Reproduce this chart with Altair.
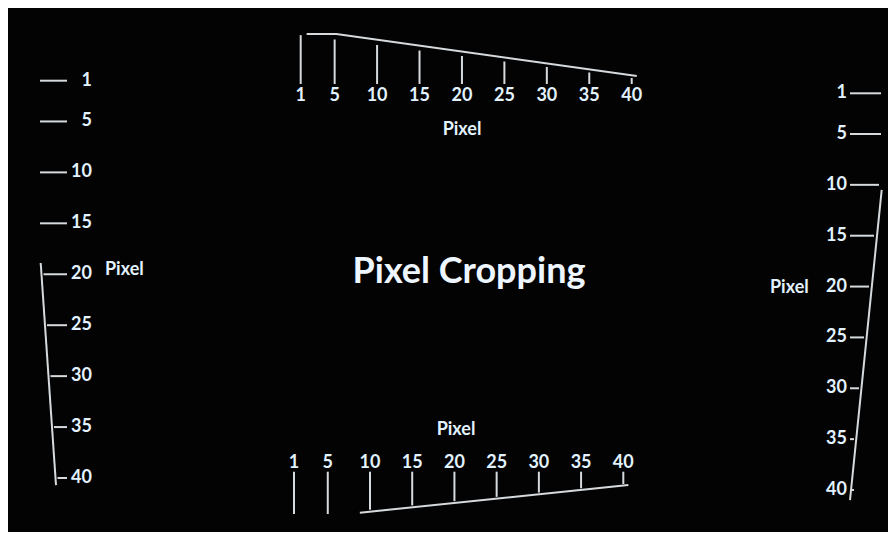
import altair as alt
import pandas as pd

# ---- data ----
title_text = "Pixel Cropping"
axis_name = "Pixel"
pixels = [1, 5, 10, 15, 20, 25, 30, 35, 40]
top_edge = [1.7, 5.2, 40.6]       # pixel values where the top slanted edge bends
bottom_edge = [8.8, 40.6]
left_edge = [18.9, 40.7]
right_edge = [10.5, 41.0]

TXT = "#e2f2ff"
LIN = "#d6dadd"
FONT = "Lato"

ticks = pd.DataFrame({"p": pixels})
labels = pd.DataFrame({"p": pixels, "t": [str(v) for v in pixels]})


def S(domain, rng, clamp=False):
    return alt.Scale(domain=domain, range=rng, clamp=clamp, nice=False, zero=False)


def Q(scale):
    return dict(field="p", type="quantitative", scale=scale, axis=None)


layers = []

# ---------- top ruler ----------
top_x = S([1, 40], [292.7, 623.7])
layers.append(alt.Chart(ticks).mark_rule(color=LIN, strokeWidth=2).encode(
    x=alt.X(**Q(top_x)), y=alt.Y(**Q(S([10, 40], [37, 70]))), y2=alt.value(76)))
layers.append(alt.Chart(pd.DataFrame({"p": top_edge})).mark_line(color=LIN, strokeWidth=2).encode(
    x=alt.X(**Q(top_x)), y=alt.Y(**Q(S([5.2, 40.6], [26, 68], True)))))
layers.append(alt.Chart(labels).mark_text(color=TXT, font=FONT, fontWeight="bold", fontSize=18,
                                          baseline="middle").encode(
    x=alt.X(**Q(top_x)), y=alt.value(88), text="t:N"))
layers.append(alt.Chart(pd.DataFrame({"t": [axis_name]})).mark_text(
    color=TXT, font=FONT, fontWeight="bold", fontSize=18, baseline="middle").encode(
    x=alt.value(454), y=alt.value(122), text="t:N"))

# ---------- bottom ruler ----------
bot_x = S([1, 40], [286, 615.3])
layers.append(alt.Chart(ticks).mark_rule(color=LIN, strokeWidth=2).encode(
    x=alt.X(**Q(bot_x)), y=alt.Y(**Q(S([5, 40], [506, 476], True))), y2=alt.value(463.7)))
layers.append(alt.Chart(pd.DataFrame({"p": bottom_edge})).mark_line(color=LIN, strokeWidth=2).encode(
    x=alt.X(**Q(bot_x)), y=alt.Y(**Q(S([8.8, 40.6], [504.7, 477])))))
layers.append(alt.Chart(labels).mark_text(color=TXT, font=FONT, fontWeight="bold", fontSize=18,
                                          baseline="middle").encode(
    x=alt.X(**Q(bot_x)), y=alt.value(455), text="t:N"))
layers.append(alt.Chart(pd.DataFrame({"t": [axis_name]})).mark_text(
    color=TXT, font=FONT, fontWeight="bold", fontSize=18, baseline="middle").encode(
    x=alt.value(448), y=alt.value(422), text="t:N"))

# ---------- left ruler ----------
left_y = S([1, 40], [72.7, 470])
layers.append(alt.Chart(ticks).mark_rule(color=LIN, strokeWidth=2).encode(
    y=alt.Y(**Q(left_y)), x=alt.X(**Q(S([15, 40], [32, 49.5], True))), x2=alt.value(59)))
layers.append(alt.Chart(pd.DataFrame({"p": left_edge})).mark_line(color=LIN, strokeWidth=2).encode(
    y=alt.Y(**Q(left_y)), x=alt.X(**Q(S([18.9, 40.7], [32.7, 48])))))
layers.append(alt.Chart(labels).mark_text(color=TXT, font=FONT, fontWeight="bold", fontSize=18,
                                          baseline="middle", align="right").encode(
    y=alt.Y(**Q(left_y)), x=alt.value(84), text="t:N"))
layers.append(alt.Chart(pd.DataFrame({"t": [axis_name]})).mark_text(
    color=TXT, font=FONT, fontWeight="bold", fontSize=18, baseline="middle", align="left").encode(
    x=alt.value(97), y=alt.value(262), text="t:N"))

# ---------- right ruler ----------
right_y = S([1, 40], [85.3, 482])
layers.append(alt.Chart(ticks).mark_rule(color=LIN, strokeWidth=2).encode(
    y=alt.Y(**Q(right_y)), x=alt.X(**Q(S([8, 35], [873, 846], True))), x2=alt.value(842)))
layers.append(alt.Chart(pd.DataFrame({"p": right_edge})).mark_line(color=LIN, strokeWidth=2).encode(
    y=alt.Y(**Q(right_y)), x=alt.X(**Q(S([10.5, 41.0], [873.7, 842])))))
layers.append(alt.Chart(labels).mark_text(color=TXT, font=FONT, fontWeight="bold", fontSize=18,
                                          baseline="middle", align="right").encode(
    y=alt.Y(**Q(right_y)), x=alt.value(839), text="t:N"))
layers.append(alt.Chart(pd.DataFrame({"t": [axis_name]})).mark_text(
    color=TXT, font=FONT, fontWeight="bold", fontSize=18, baseline="middle", align="left").encode(
    x=alt.value(762), y=alt.value(280), text="t:N"))

# ---------- centre title ----------
layers.append(alt.Chart(pd.DataFrame({"t": [title_text]})).mark_text(
    color="#eef6ff", font=FONT, fontWeight="bold", fontSize=36, baseline="alphabetic",
    align="center").encode(x=alt.value(461), y=alt.value(275), text="t:N"))

chart = alt.layer(*layers).resolve_scale(x="independent", y="independent").properties(
    width=880, height=524, padding=0, autosize="none", background="#030303"
).configure_view(stroke=None)

chart.save("out.html", embed_options={"renderer": "svg", "actions": False})
